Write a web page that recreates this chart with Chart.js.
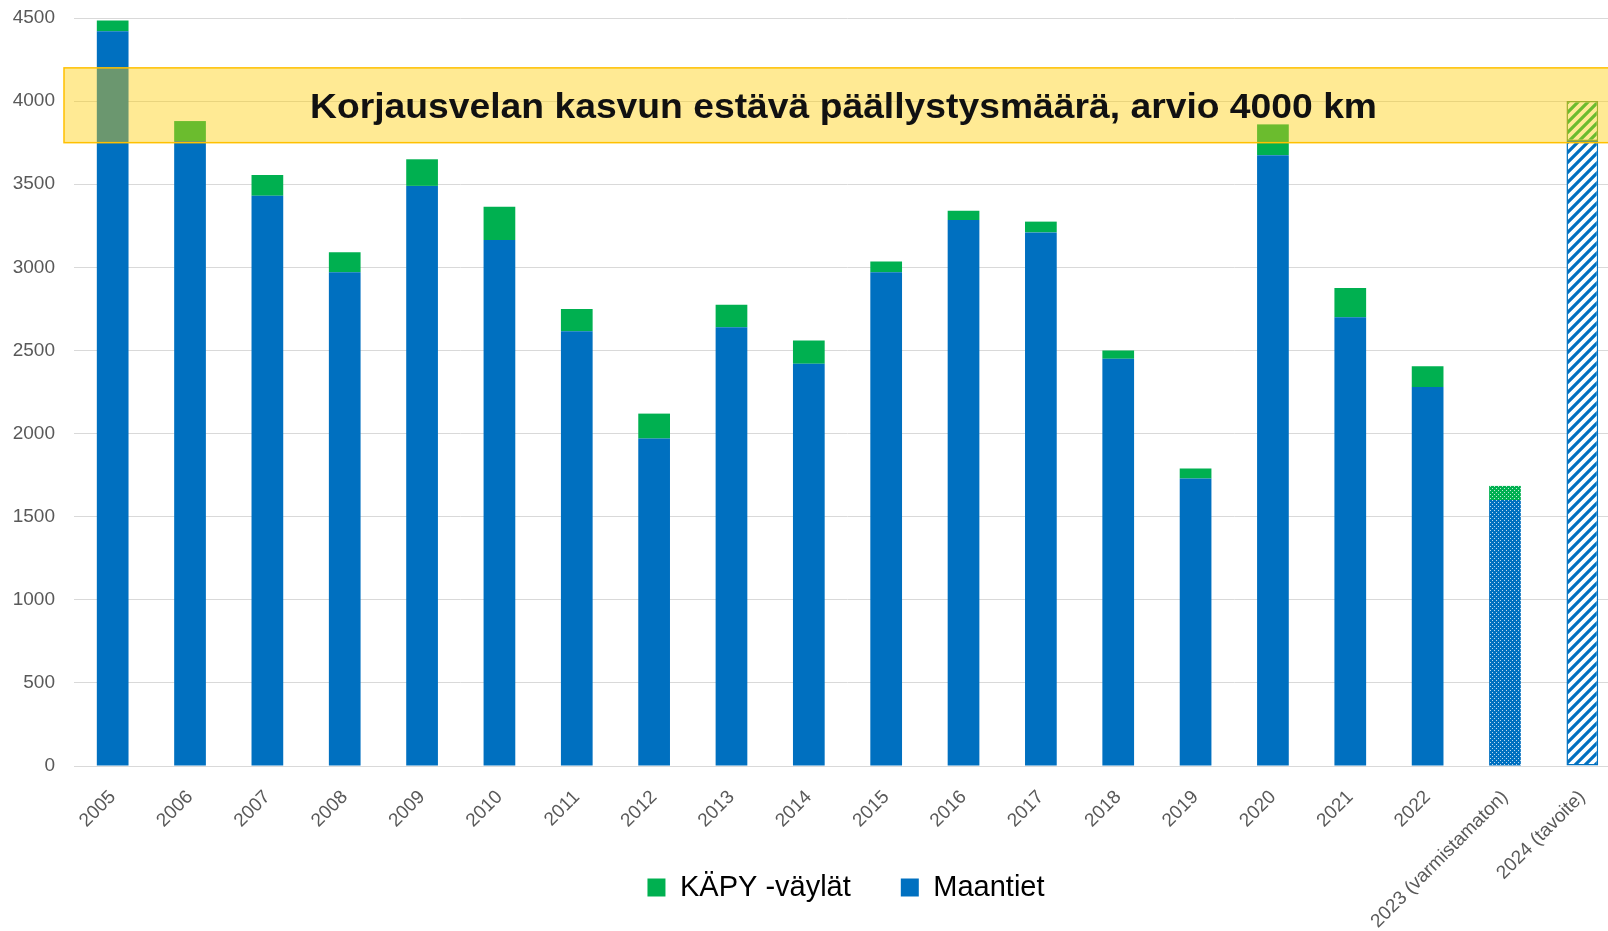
<!DOCTYPE html>
<html lang="fi">
<head>
<meta charset="utf-8">
<title>Päällystysmäärät 2005–2024</title>
<script src="https://cdn.jsdelivr.net/npm/chart.js@4/dist/chart.umd.min.js"></script>
<style>
  html, body { margin: 0; padding: 0; background: #fff; overflow: hidden; }
  #wrap { position: absolute; left: 0; top: 0; width: 1630px; height: 931px; }
</style>
</head>
<body>
<div id="wrap"><canvas id="c" width="1630" height="931"></canvas></div>
<script>
"use strict";

// Vuodet ja päällystetyt kilometrit (luettu kuvasta)
const years = ["2005", "2006", "2007", "2008", "2009", "2010", "2011", "2012",
  "2013", "2014", "2015", "2016", "2017", "2018", "2019", "2020", "2021",
  "2022", "2023 (varmistamaton)", "2024 (tavoite)"];
const maantiet = [4420, 3760, 3430, 2970, 3490, 3165, 2615, 1970, 2640, 2420,
  2970, 3285, 3210, 2450, 1730, 3675, 2700, 2280, 1600, 3760];
const kapy = [65, 120, 125, 120, 160, 200, 135, 150, 135, 140,
  65, 55, 65, 50, 60, 185, 175, 125, 85, 240];

const yTicks = [0, 500, 1000, 1500, 2000, 2500, 3000, 3500, 4000, 4500];

// Korjausvelan kasvun estävä taso, arvio 4000 km: nauha n. 3750–4200
const bandLow = 3750;
const bandHigh = 4200;
const bandText = "Korjausvelan kasvun estävä päällystysmäärä, arvio 4000 km";

const BLUE = "#0070C0";
const GREEN = "#00B050";
const TXT = "#595959";
const FONT = "'Liberation Sans', sans-serif";

// Kuviot: 2023 pisteytetty, 2024 vinoviivoitettu
function dots(color) {
  const c = document.createElement("canvas");
  c.width = 4; c.height = 4;
  const g = c.getContext("2d");
  g.fillStyle = color;
  g.fillRect(0, 0, 4, 4);
  g.fillStyle = "rgba(255,255,255,0.75)";
  g.fillRect(0, 0, 1, 1);
  g.fillRect(2, 2, 1, 1);
  return g.createPattern(c, "repeat");
}

function stripes(color) {
  const s = 10;
  const c = document.createElement("canvas");
  c.width = s; c.height = s;
  const g = c.getContext("2d");
  g.fillStyle = "#fff";
  g.fillRect(0, 0, s, s);
  g.strokeStyle = color;
  g.lineWidth = 3.2;
  g.beginPath();
  g.moveTo(-2, s + 2); g.lineTo(s + 2, -2);
  g.moveTo(-2, 2); g.lineTo(2, -2);
  g.moveTo(s - 2, s + 2); g.lineTo(s + 2, s - 2);
  g.stroke();
  return g.createPattern(c, "repeat");
}

const ctx0 = document.getElementById("c").getContext("2d");
const n = years.length;
const fills = (color) => years.map((_, i) =>
  i === n - 2 ? dots(color) : i === n - 1 ? stripes(color) : color);
const borders = years.map((_, i) => (i === n - 1 ? 1.5 : 0));

// Akseleiden koko lukitaan; tekstit saavat silti ylittää akselin laatikon
const fixSize = (prop, px) => (s) => {
  s[prop] = px;
  s.paddingTop = 0;
  s.paddingBottom = 0;
  s._computeLabelArea = () => undefined;
};

// Keltainen tavoitenauha ja sen teksti piirretään pylväiden päälle
const bandPlugin = {
  id: "band",
  afterDatasetsDraw(chart) {
    const { ctx, chartArea, scales } = chart;
    const y1 = scales.y.getPixelForValue(bandHigh);
    const y2 = scales.y.getPixelForValue(bandLow);
    const x1 = chartArea.left - 10;
    const x2 = chart.width + 5;
    ctx.save();
    ctx.fillStyle = "rgba(255,204,0,0.42)";
    ctx.fillRect(x1, y1, x2 - x1, y2 - y1);
    ctx.strokeStyle = "#FFC000";
    ctx.lineWidth = 1.5;
    ctx.strokeRect(x1, y1, x2 - x1, y2 - y1);

    const cx = (chartArea.left + chartArea.right) / 2 - 4;
    const cy = (y1 + y2) / 2 + 3;
    ctx.font = "bold 35px " + FONT;
    ctx.fillStyle = "#111";
    ctx.textAlign = "center";
    ctx.textBaseline = "middle";
    const w = ctx.measureText(bandText).width;
    ctx.translate(cx, cy);
    ctx.scale(1067 / w, 1);
    ctx.fillText(bandText, 0, 0);
    ctx.restore();
  },
};

new Chart(ctx0, {
  type: "bar",
  data: {
    labels: years,
    datasets: [
      {
        label: "Maantiet",
        data: maantiet,
        backgroundColor: fills(BLUE),
        borderColor: BLUE,
        borderWidth: borders,
        borderSkipped: false,
      },
      {
        label: "KÄPY -väylät",
        data: kapy,
        backgroundColor: fills(GREEN),
        borderColor: "#5a9a4a",
        borderWidth: borders,
        borderSkipped: false,
      },
    ],
  },
  options: {
    responsive: false,
    devicePixelRatio: 1,
    animation: false,
    categoryPercentage: 1,
    barPercentage: 0.41,
    layout: { padding: { left: 71, right: 9, top: 18, bottom: 19 } },
    plugins: {
      tooltip: { enabled: false },
      legend: {
        position: "bottom",
        labels: {
          boxWidth: 18,
          boxHeight: 18,
          padding: 50,
          color: TXT,
          font: { family: FONT, size: 29 },
          generateLabels: () => [
            { text: "KÄPY -väylät", fillStyle: GREEN, strokeStyle: GREEN, lineWidth: 0, datasetIndex: 1 },
            { text: "Maantiet", fillStyle: BLUE, strokeStyle: BLUE, lineWidth: 0, datasetIndex: 0 },
          ],
        },
      },
    },
    scales: {
      x: {
        stacked: true,
        grid: { display: false },
        border: { color: "#D9D9D9" },
        ticks: {
          color: TXT,
          font: { family: FONT, size: 19 },
          minRotation: 45,
          maxRotation: 45,
          autoSkip: false,
          padding: 12,
        },
        afterFit: fixSize("height", 57),
      },
      y: {
        stacked: true,
        min: 0,
        max: 4500,
        grid: { color: "#D9D9D9", drawTicks: false },
        border: { display: false },
        afterBuildTicks: (s) => { s.ticks = yTicks.map((v) => ({ value: v })); },
        ticks: {
          color: TXT,
          font: { family: FONT, size: 19 },
          padding: 19,
          callback: (v) => String(v),
        },
        afterFit: fixSize("width", 3),
      },
    },
  },
  plugins: [bandPlugin],
});
</script>
</body>
</html>
